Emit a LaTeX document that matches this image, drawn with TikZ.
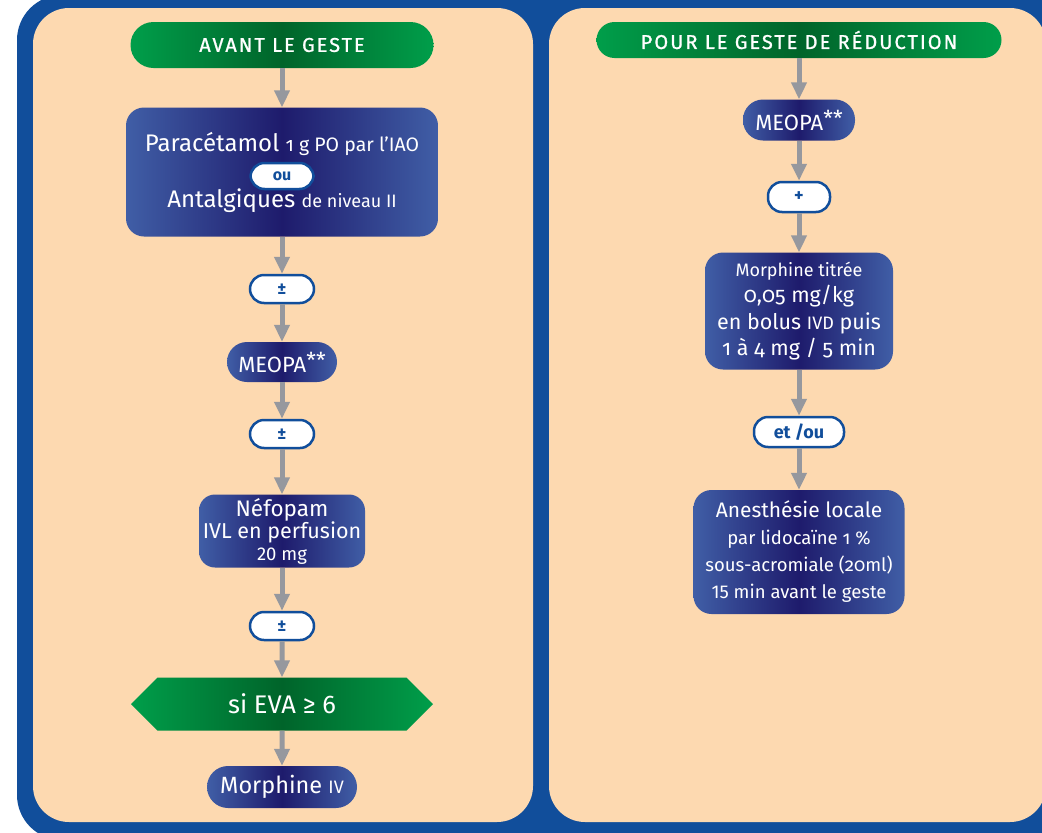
\documentclass[tikz,border=0pt]{standalone}
\usepackage{fontspec}
\setmainfont{Fira Sans}
\usetikzlibrary{arrows.meta}
\usetikzlibrary{shapes.symbols}

\definecolor{fondbleu}{RGB}{17,78,155}
\definecolor{peche}{RGB}{253,217,176}
\definecolor{vertclair}{RGB}{0,158,74}
\definecolor{vertfonce}{RGB}{0,100,42}
\definecolor{bleuclair}{RGB}{64,94,166}
\definecolor{bleufonce}{RGB}{30,27,108}
\definecolor{gris}{RGB}{150,152,158}

\newcommand{\os}[1]{{\addfontfeature{Numbers=OldStyle}#1}}
\newcommand{\taille}[2]{{\fontsize{#1}{#1}\selectfont #2}}

\begin{document}
\begin{tikzpicture}[x=1pt, y=-1pt,
  panneau/.style={fill=peche, rounded corners=36pt},
  titre/.style={rectangle, left color=vertclair, right color=vertclair, middle color=vertfonce, text=white, inner sep=0pt, font=\fontsize{20}{20}\selectfont\addfontfeature{LetterSpace=10,FakeBold=1}},
  etape/.style={rectangle, rounded corners=18pt, left color=bleuclair, right color=bleuclair, middle color=bleufonce, text=white, align=center, inner sep=0pt},
  pastille/.style={rectangle, rounded corners=14pt, draw=fondbleu, line width=2.5pt, fill=white, text=fondbleu, inner sep=0pt, minimum width=64pt, minimum height=28pt, font=\fontsize{17}{17}\selectfont\bfseries},
  fleche/.style={draw=gris, line width=5pt, -{Triangle[width=15pt,length=17pt]}}]
\useasboundingbox (0,0) rectangle (1042,833);
% fond et panneaux
\fill [fondbleu, rounded corners=45pt] (17,-5) rectangle (1100,840);
\fill [panneau] (33,8) rectangle (533,822);
\fill [panneau] (549,8) rectangle (1046,822);
% colonne gauche
\node [titre, rounded corners=23pt, minimum width=303pt, minimum height=46pt] (avant) at (282,45) {AVANT LE GESTE};
\node [etape, minimum width=312pt, minimum height=129pt, font=\fontsize{24}{30}\selectfont] (palier) at (282,172) {Paracétamol \taille{19.5}{\os{1} g PO par l’IAO}\\[26pt]Antalgiques \taille{18}{de niveau II}};
\node [pastille, minimum width=63pt, minimum height=26pt, font=\fontsize{16}{16}\selectfont\bfseries] (ou) at (282,176) {ou};
\node [pastille] (pm1) at (282,289) {±};
\node [etape, rounded corners=20pt, minimum width=110pt, minimum height=40pt, font=\fontsize{22}{22}\selectfont] (meopaG) at (282,362) {MEOPA\raisebox{4pt}{**}};
\node [pastille] (pm2) at (282,434) {±};
\node [etape, rounded corners=16pt, minimum width=166pt, minimum height=73pt, font=\fontsize{21.5}{22}\selectfont] (nefopam) at (282,531) {\taille{22.5}{Néfopam}\\IVL en perfusion\\\taille{18.5}{20 mg}};
\node [pastille] (pm3) at (282,626) {±};
\node [signal, signal to=west and east, signal pointer angle=90, left color=vertclair, right color=vertclair, middle color=vertfonce, text=white, inner sep=0pt, minimum width=302pt, minimum height=53pt, font=\fontsize{25.5}{25.5}\selectfont] (eva) at (282,704) {si EVA ≥ 6};
\node [etape, rounded corners=21pt, minimum width=150pt, minimum height=42pt, font=\fontsize{23.5}{23.5}\selectfont] (morphG) at (282,787) {Morphine \taille{18}{IV}};
\draw [fleche] (avant) -- (palier);
\draw [fleche] (palier) -- (pm1);
\draw [fleche] (pm1) -- (meopaG);
\draw [fleche] (meopaG) -- (pm2);
\draw [fleche] (pm2) -- (nefopam);
\draw [fleche] (nefopam) -- (pm3);
\draw [fleche] (pm3) -- (eva);
\draw [fleche] (eva) -- (morphG);
% colonne droite
\node [titre, rounded corners=18pt, minimum width=405pt, minimum height=36pt] (pour) at (799,40) {POUR LE GESTE DE RÉDUCTION};
\node [etape, rounded corners=20pt, minimum width=112pt, minimum height=41pt, font=\fontsize{22}{22}\selectfont] (meopaD) at (799,120) {MEOPA\raisebox{4pt}{**}};
\node [pastille, minimum width=62pt, minimum height=30pt, font=\fontsize{18}{18}\selectfont\bfseries] (plus) at (799,197) {+};
\node [etape, minimum width=188pt, minimum height=117pt, font=\fontsize{21.5}{26.5}\selectfont] (titree) at (799,311) {\taille{18}{Morphine titrée}\\\os{0,05} mg/kg\\en bolus \taille{18}{IVD} puis\\\os{1 à 4} mg / \os{5} min};
\node [pastille, minimum width=90pt, minimum height=30pt, font=\fontsize{18}{18}\selectfont\bfseries] (etou) at (799,432) {et /ou};
\node [etape, minimum width=211pt, minimum height=124pt, font=\fontsize{18.5}{27}\selectfont] (locale) at (799,552) {\taille{21}{Anesthésie locale}\\par lidocaïne \os{1}~\%\\sous-acromiale (\os{20}ml)\\15 min avant le geste};
\draw [fleche] (pour) -- (meopaD);
\draw [fleche] (meopaD) -- (plus);
\draw [fleche] (plus) -- (titree);
\draw [fleche] (titree) -- (etou);
\draw [fleche] (etou) -- (locale);
\end{tikzpicture}
\end{document}
